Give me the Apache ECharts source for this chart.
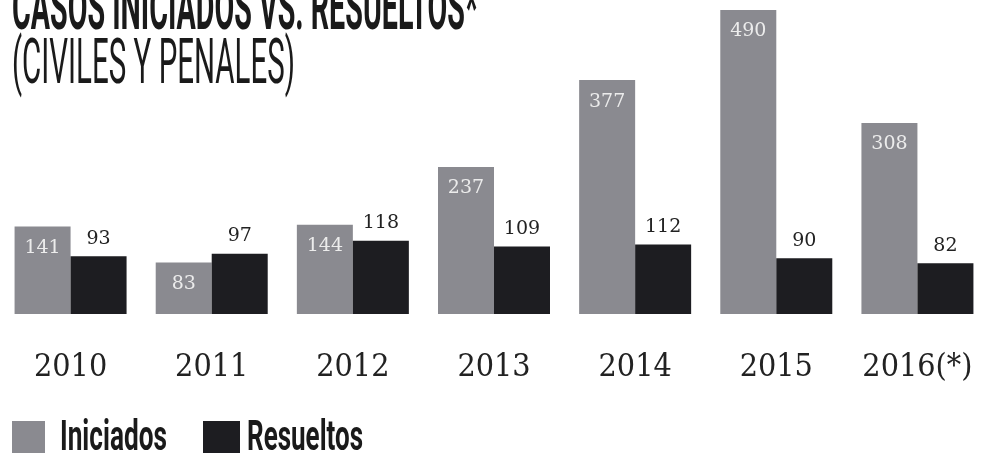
<!DOCTYPE html>
<html>
<head>
<meta charset="utf-8">
<script src="https://cdn.jsdelivr.net/npm/echarts@6/dist/echarts.min.js"></script>
<style>html,body{margin:0;padding:0;background:#fff;}#chart{width:988px;height:453px;}</style>
</head>
<body>
<div id="chart"></div>
<script>
const categories = ['2010', '2011', '2012', '2013', '2014', '2015', '2016(*)'];
const iniciados = [141, 83, 144, 237, 377, 490, 308];
const resueltos = [93, 97, 118, 109, 112, 90, 82];
const titleText = 'CASOS INICIADOS VS. RESUELTOS*';
const subtitleText = '(CIVILES Y PENALES)';
const seriesNames = ['Iniciados', 'Resueltos'];

const colGrey = '#8a8a90';
const colBlack = '#1d1d21';

const ctx = document.createElement('canvas').getContext('2d');
function fitScale(text, font, width) {
  ctx.font = font;
  return width / ctx.measureText(text).width;
}
function condText(text, font, x, y, width, fill) {
  return {
    type: 'text', x: x, y: y, scaleX: fitScale(text, font, width), scaleY: 1,
    style: { text: text, font: font, fill: fill, align: 'left', verticalAlign: 'middle' },
    silent: true
  };
}

const titleFont = 'bold 63px Roboto';
const subFont = '63px Roboto';
const legFont = 'bold 42px Roboto';

const chart = echarts.init(document.getElementById('chart'), null, { renderer: 'canvas' });
chart.setOption({
  backgroundColor: '#fff',
  animation: false,
  grid: { left: -3, right: -5, top: 10, bottom: 139, containLabel: false },
  xAxis: {
    type: 'category',
    data: categories,
    axisLine: { show: false },
    axisTick: { show: false },
    axisLabel: { interval: 0, margin: 38, fontFamily: '"DejaVu Serif Condensed", "DejaVu Serif"', fontSize: 32, color: '#222' }
  },
  yAxis: { type: 'value', min: 0, max: 490, show: false, splitLine: { show: false } },
  series: [
    {
      name: seriesNames[0], type: 'bar', data: iniciados, barWidth: 56, barGap: '0%',
      itemStyle: { color: colGrey },
      label: { show: true, position: 'insideTop', distance: 12, color: '#ececec',
               fontFamily: 'DejaVu Serif', fontSize: 19 }
    },
    {
      name: seriesNames[1], type: 'bar', data: resueltos, barWidth: 56, barGap: '0%',
      itemStyle: { color: colBlack },
      label: { show: true, position: 'top', distance: 8, color: '#222',
               fontFamily: 'DejaVu Serif', fontSize: 19 }
    }
  ],
  graphic: [
    condText(titleText, titleFont, 12, 13, 466, '#1a1a1a'),
    condText(subtitleText, subFont, 12, 67, 283, '#1a1a1a'),
    { type: 'rect', shape: { x: 12, y: 421, width: 33, height: 32 }, style: { fill: colGrey }, silent: true },
    condText(seriesNames[0], legFont, 60, 439, 107, '#1a1a1a'),
    { type: 'rect', shape: { x: 203, y: 421, width: 37, height: 32 }, style: { fill: colBlack }, silent: true },
    condText(seriesNames[1], legFont, 247, 439, 116, '#1a1a1a')
  ]
});
</script>
</body>
</html>
